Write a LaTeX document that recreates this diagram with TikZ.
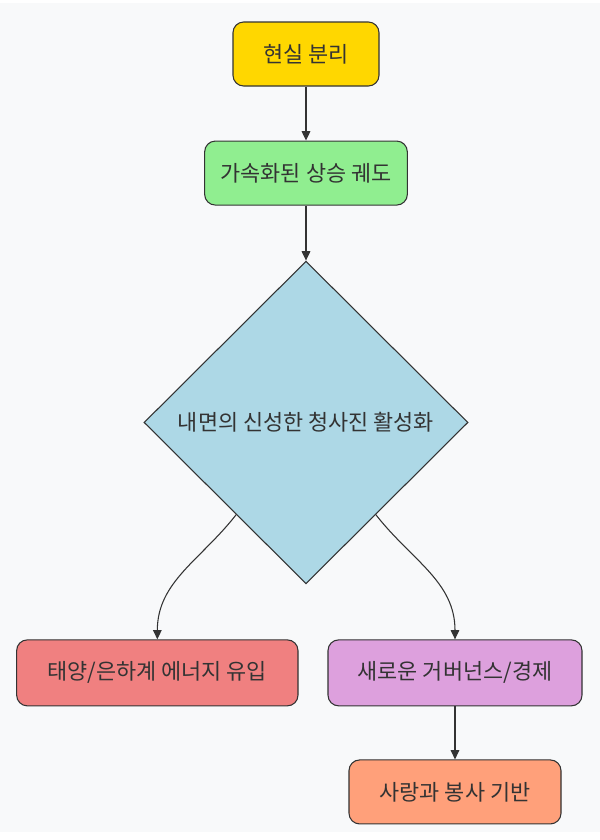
\documentclass[tikz,border=0pt]{standalone}
\usepackage{fontspec}
\setmainfont{Noto Sans CJK KR}
\usepackage{xcolor}
\usetikzlibrary{shapes.geometric, arrows.meta, positioning, calc, backgrounds}

\definecolor{bgcol}{HTML}{F8F9FA}
\definecolor{ink}{HTML}{333333}
\definecolor{gold}{HTML}{FFD700}
\definecolor{lgreen}{HTML}{90EE90}
\definecolor{lblue}{HTML}{ADD8E6}
\definecolor{lcoral}{HTML}{F08080}
\definecolor{plum}{HTML}{DDA0DD}
\definecolor{lsalmon}{HTML}{FFA07A}

\begin{document}
\begin{tikzpicture}[
    x=1pt, y=1pt,
    font=\fontsize{16.4pt}{19pt}\selectfont,
    box/.style={rectangle, draw=ink, line width=0.8pt, rounded corners=8pt, text=ink, minimum height=48pt, align=center},
    decision/.style={diamond, draw=ink, line width=0.8pt, fill=lblue, text=ink, minimum width=243pt, minimum height=242pt, inner sep=0pt, align=center},
    arrow/.style={-{Triangle[length=7pt,width=6.5pt]}, draw=ink, line width=0.8pt}
]

% canvas
\useasboundingbox (0,0) rectangle (450,-630);
\fill[bgcol] (0,-2) rectangle (450,-624);

\node[box, fill=gold, minimum width=109.5pt] (split) at (229.5,-40.5) {현실 분리};
\node[box, fill=lgreen, minimum width=152pt, below=40.5pt of split] (orbit) {가속화된 상승 궤도};
\node[decision, below=41.25pt of orbit] (blueprint) {내면의 신성한 청사진 활성화};

\node[box, fill=lcoral, minimum width=211pt, minimum height=49.5pt, below=41.25pt of blueprint.south, xshift=-111.5pt] (energy) {태양/은하계 에너지 유입};
\node[box, fill=plum, minimum width=190.5pt, minimum height=49.5pt, below=41.25pt of blueprint.south, xshift=111.75pt] (economy) {새로운 거버넌스/경제};
\node[box, fill=lsalmon, minimum width=159pt, below=39.75pt of economy] (service) {사랑과 봉사 기반};

\draw[arrow] (split) -- (orbit);
\draw[arrow] (orbit) -- (blueprint);
\draw[arrow] ($(blueprint.west)!0.57!(blueprint.south)$) to[out=232, in=90] (energy.north);
\draw[arrow] ($(blueprint.east)!0.57!(blueprint.south)$) to[out=-52, in=90] (economy.north);
\draw[arrow] (economy) -- (service);

\end{tikzpicture}
\end{document}
